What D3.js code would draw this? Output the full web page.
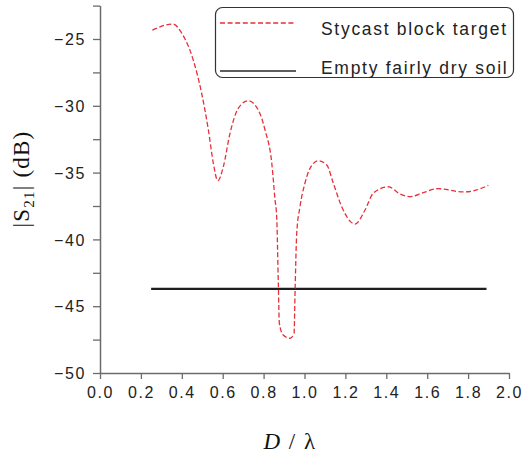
<!DOCTYPE html>
<html>
<head>
<meta charset="utf-8">
<script src="https://cdn.jsdelivr.net/npm/d3@7"></script>
<style>
  html, body { margin: 0; padding: 0; background: #fff; }
  svg { display: block; }
  .tick-label { font-family: Arial, "Liberation Sans", sans-serif; font-size: 16px; fill: #222; letter-spacing: 1.6px; }
  .legend-text { font-family: Arial, "Liberation Sans", sans-serif; font-size: 17.5px; fill: #222; letter-spacing: 1.7px; }
  .title { font-family: "Times New Roman", "Liberation Serif", serif; fill: #111; }
</style>
</head>
<body>
<svg id="chart" width="524" height="458"></svg>
<script>
// Measured |S21| of the Stycast block target versus normalised size D/λ
const targetX = [0.256, 0.356, 0.400, 0.456, 0.497, 0.530, 0.554, 0.576, 0.603, 0.636,
                 0.676, 0.725, 0.774, 0.807, 0.840, 0.856, 0.864, 0.872, 0.877, 0.896,
                 0.929, 0.949, 0.954, 0.962, 0.978, 1.002, 1.027, 1.067, 1.109, 1.141,
                 1.182, 1.247, 1.296, 1.336, 1.410, 1.467, 1.516, 1.581, 1.654, 1.777,
                 1.842, 1.899];
const targetY = [-24.33, -23.88, -24.57, -26.57, -29.06, -31.81, -34.28, -35.61, -34.56, -32.04,
                 -30.19, -29.62, -30.31, -31.81, -34.30, -37.05, -38.30, -43.29, -46.28, -47.16,
                 -47.40, -47.03, -43.79, -39.54, -37.55, -35.80, -34.68, -34.11, -34.43, -35.80,
                 -37.55, -38.85, -37.80, -36.55, -36.06, -36.60, -36.80, -36.50, -36.20, -36.45,
                 -36.30, -35.95];

// Reference level of the empty fairly dry soil
const soilX = [0.25, 1.89];
const soilY = [-43.7, -43.7];

const xTicks = [0.0, 0.2, 0.4, 0.6, 0.8, 1.0, 1.2, 1.4, 1.6, 1.8, 2.0];
const yTicks = [-50, -47.5, -45, -42.5, -40, -37.5, -35, -32.5, -30, -27.5, -25, -22.5];
const yLabels = [-50, -45, -40, -35, -30, -25];

const seriesNames = ["Stycast block target", "Empty fairly dry soil"];

const svg = d3.select("#chart");

const x = d3.scaleLinear().domain([0, 2]).range([100, 509]);
const y = d3.scaleLinear().domain([-50, -22.5]).range([373, 5.6]);

const axisColor = "#6b6b6b";

function styleAxis(g) {
  g.attr("font-size", null).attr("font-family", null);
  g.select(".domain").attr("stroke", axisColor).attr("stroke-width", 1.5).attr("fill", "none");
  g.selectAll(".tick line").attr("stroke", axisColor).attr("stroke-width", 1.3);
  g.selectAll(".tick text").attr("class", "tick-label").attr("fill", null);
}

// x axis
const xAxis = d3.axisBottom(x).tickValues(xTicks).tickSize(6).tickSizeOuter(0)
  .tickFormat(d3.format(".1f"));
const gx = svg.append("g").attr("transform", `translate(0,${y(-50)})`).call(xAxis);
styleAxis(gx);
gx.selectAll(".tick text").attr("y", 14).attr("dy", "0.71em");

// y axis
const yAxis = d3.axisLeft(y).tickValues(yTicks).tickSize(7).tickSizeOuter(0)
  .tickFormat(d => yLabels.includes(d) ? d3.format("d")(d) : "");
const gy = svg.append("g").attr("transform", `translate(${x(0)},0)`).call(yAxis);
styleAxis(gy);
gy.selectAll(".tick text").attr("x", -14).attr("dy", "0.36em");

// data lines
const line = d3.line().x(d => x(d[0])).y(d => y(d[1])).curve(d3.curveMonotoneX);

svg.append("path")
  .datum(soilX.map((v, i) => [v, soilY[i]]))
  .attr("d", d3.line().x(d => x(d[0])).y(d => y(d[1])))
  .attr("fill", "none").attr("stroke", "#1e1e1e").attr("stroke-width", 2.4);

svg.append("path")
  .datum(targetX.map((v, i) => [v, targetY[i]]))
  .attr("d", line)
  .attr("fill", "none").attr("stroke", "#e5303a").attr("stroke-width", 1.3)
  .attr("stroke-dasharray", "5,2.5");

// axis titles
svg.append("text").attr("class", "title")
  .attr("x", 290).attr("y", 449).attr("text-anchor", "middle")
  .attr("font-size", 23).attr("letter-spacing", 1.5)
  .html('<tspan font-style="italic">D</tspan> / <tspan>λ</tspan>');

const yt = svg.append("text").attr("class", "title")
  .attr("transform", "translate(29,179) rotate(-90)")
  .attr("text-anchor", "middle").attr("font-size", 23).attr("letter-spacing", 1.2);
yt.append("tspan").text("|S");
yt.append("tspan").attr("font-size", 15).attr("dy", 5).text("21");
yt.append("tspan").attr("dy", -5).text("| (dB)");

// legend
const lg = svg.append("g");
lg.append("rect").attr("x", 215.5).attr("y", 7.5).attr("width", 298).attr("height", 70)
  .attr("rx", 7).attr("fill", "#fff").attr("stroke", "#333").attr("stroke-width", 1.2);
lg.append("line").attr("x1", 220).attr("x2", 296).attr("y1", 23).attr("y2", 23)
  .attr("stroke", "#e5303a").attr("stroke-width", 1.3).attr("stroke-dasharray", "5,2.6");
lg.append("line").attr("x1", 220).attr("x2", 296).attr("y1", 71).attr("y2", 71)
  .attr("stroke", "#2a2a2a").attr("stroke-width", 1.4);
lg.append("text").attr("class", "legend-text").attr("x", 321).attr("y", 34.5).text(seriesNames[0]);
lg.append("text").attr("class", "legend-text").attr("x", 321).attr("y", 74).text(seriesNames[1]);
</script>
</body>
</html>
